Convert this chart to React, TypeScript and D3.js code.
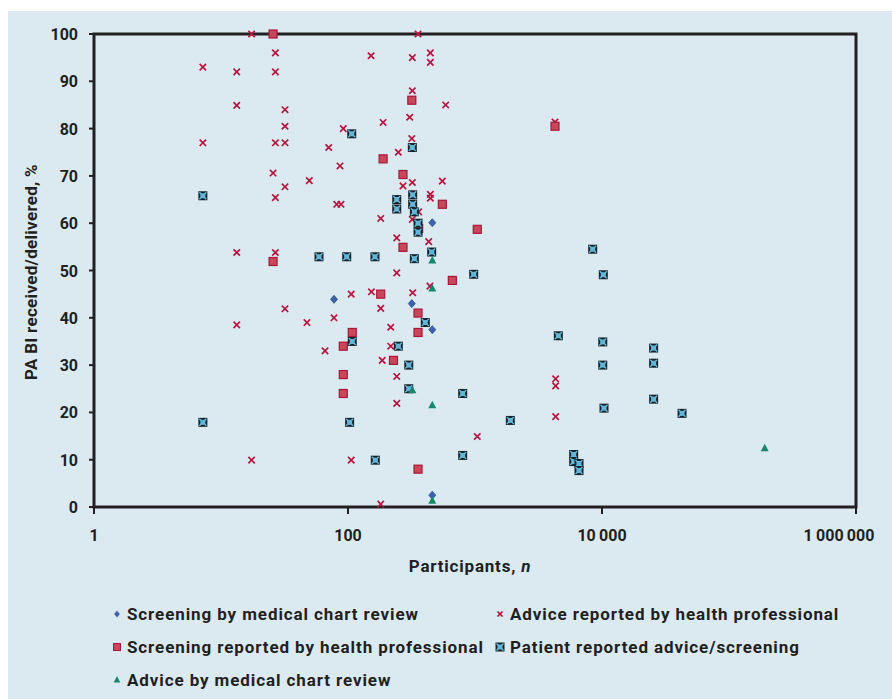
import React from "react";
import * as d3 from "d3";

// Screening by medical chart review (diamond)
const screenChartN = [77.6, 318, 461, 461, 461];
const screenChartPct = [43.9, 43.0, 60.1, 37.5, 2.5];

// Advice reported by health professional (cross)
const adviceHpN = [17.4, 356, 26.8, 152, 321, 445, 445, 7.2, 13.3, 26.8, 321, 588, 13.3, 31.9, 306, 189, 4266, 31.9, 91.8, 318, 7.2, 26.8, 31.9, 70.5, 249, 86.5, 25.7, 49.6, 271, 321, 553, 31.9, 26.8, 445, 445, 360, 81.5, 88.1, 181, 321, 242, 432, 13.3, 26.8, 242, 442, 106, 153, 323, 31.9, 181, 77.6, 47.5, 13.3, 217, 217, 65.9, 186, 242, 4315, 4315, 4315, 242, 1042, 17.4, 106, 181];
const adviceHpPct = [100, 100, 96.0, 95.4, 95.0, 96.0, 94.0, 93.0, 92.0, 92.0, 88.0, 85.0, 84.9, 84.0, 82.4, 81.3, 81.4, 80.5, 80.0, 77.9, 77.0, 77.0, 77.0, 76.0, 75.0, 72.1, 70.6, 69.0, 67.9, 68.6, 68.9, 67.7, 65.4, 66.1, 65.3, 62.4, 64.0, 64.0, 61.0, 60.8, 56.9, 56.1, 53.8, 53.8, 49.5, 46.7, 45.0, 45.5, 45.3, 41.9, 42.0, 40.0, 39.0, 38.5, 38.0, 34.0, 33.0, 31.0, 27.6, 27.1, 25.6, 19.1, 21.9, 14.9, 9.9, 9.9, 0.6];

// Screening reported by health professional (square)
const screenHpN = [25.7, 25.7, 189, 271, 318, 553, 360, 271, 1042, 663, 181, 356, 108, 356, 91.8, 228, 91.8, 91.8, 356, 4266];
const screenHpPct = [100, 51.9, 73.6, 70.3, 86.0, 64.0, 58.9, 54.9, 58.7, 47.9, 45.0, 41.0, 36.9, 36.9, 34.0, 31.0, 28.0, 24.0, 8.0, 80.5];

// Patient reported advice/screening
const patientN = [7.2, 7.2, 107, 321, 242, 323, 323, 242, 333, 356, 356, 456, 333, 59.1, 97.7, 163, 977, 406, 108, 249, 301, 301, 800, 103, 164, 800, 8450, 10240, 4530, 10140, 25500, 10140, 25500, 25500, 10370, 42700, 1897, 5985, 5985, 6590, 6590];
const patientPct = [65.8, 17.9, 78.9, 76.0, 65.0, 66.0, 64.0, 63.0, 62.4, 60.0, 58.1, 53.9, 52.5, 52.9, 52.9, 52.9, 49.2, 39.0, 35.0, 34.0, 30.0, 25.0, 24.0, 17.9, 9.9, 10.9, 54.5, 49.1, 36.2, 34.9, 33.6, 30.0, 30.4, 22.8, 20.9, 19.8, 18.3, 11.1, 9.6, 9.2, 7.7];

// Advice by medical chart review (triangle)
const adviceChartN = [461, 461, 321, 461, 461, 191000];
const adviceChartPct = [52.1, 46.2, 24.7, 21.5, 1.3, 12.4];

const xTicks = [1, 100, 10000, 1000000];
const xTickLabels = ["1", "100", "10\u2009000", "1\u2009000\u2009000"];
const yTicks = [0, 10, 20, 30, 40, 50, 60, 70, 80, 90, 100];

const FONT = "'Roboto', 'Liberation Sans', sans-serif";
const CROSS = "#b8163e";
const SQ_FILL = "#c8485a";
const SQ_STROKE = "#a9173a";
const DIAMOND = "#3b64ad";
const TRI = "#16876b";
const PAT_DARK = "#17232a";
const PAT_LIGHT = "#63b6d8";
const AXIS = "#231f20";

const zip = (a: number[], b: number[]) => a.map((v, i) => [v, b[i]] as [number, number]);

function Cross({ x, y, s = 3.2 }: { x: number; y: number; s?: number }) {
  return (
    <g stroke={CROSS} strokeWidth={1.7}>
      <line x1={x - s} y1={y - s} x2={x + s} y2={y + s} />
      <line x1={x - s} y1={y + s} x2={x + s} y2={y - s} />
    </g>
  );
}
function Square({ x, y }: { x: number; y: number }) {
  return <rect x={x - 4} y={y - 4} width={8} height={8} fill={SQ_FILL} stroke={SQ_STROKE} strokeWidth={1.2} />;
}
function Diamond({ x, y }: { x: number; y: number }) {
  return <path d={`M${x},${y - 4}L${x + 3.5},${y}L${x},${y + 4}L${x - 3.5},${y}Z`} fill={DIAMOND} stroke="#2b4f8f" strokeWidth={0.8} />;
}
function Tri({ x, y }: { x: number; y: number }) {
  return <path d={`M${x},${y - 4.5}L${x + 4},${y + 3}L${x - 4},${y + 3}Z`} fill={TRI} />;
}
function Patient({ x, y }: { x: number; y: number }) {
  return (
    <g>
      <rect x={x - 4.5} y={y - 4.5} width={9} height={9} fill={PAT_DARK} />
      <rect x={x - 2.5} y={y - 2.5} width={5} height={5} fill={PAT_LIGHT} />
      <g stroke={PAT_LIGHT} strokeWidth={1.4}>
        <line x1={x - 3.5} y1={y - 3.5} x2={x + 3.5} y2={y + 3.5} />
        <line x1={x - 3.5} y1={y + 3.5} x2={x + 3.5} y2={y - 3.5} />
      </g>
    </g>
  );
}

export default function App() {
  const W = 892, H = 699;
  const x = d3.scaleLog().domain([1, 1000000]).range([94, 856]);
  const y = d3.scaleLinear().domain([0, 100]).range([507, 34]);

  const legendRows = [
    { lx: 117, ly: 614, text: "Screening by medical chart review", m: "diamond" },
    { lx: 500, ly: 614, text: "Advice reported by health professional", m: "cross" },
    { lx: 117, ly: 647, text: "Screening reported by health professional", m: "square" },
    { lx: 500, ly: 647, text: "Patient reported advice/screening", m: "patient" },
    { lx: 117, ly: 680, text: "Advice by medical chart review", m: "tri" },
  ];

  const legendMarker = (m: string, cx: number, cy: number) => {
    if (m === "diamond") return <path d={`M${cx},${cy - 3.5}L${cx + 2.8},${cy}L${cx},${cy + 3.5}L${cx - 2.8},${cy}Z`} fill={DIAMOND} />;
    if (m === "cross") return <Cross x={cx} y={cy} s={2.5} />;
    if (m === "square") return <rect x={cx - 3.5} y={cy - 3.5} width={7} height={7} fill={SQ_FILL} stroke={SQ_STROKE} />;
    if (m === "patient") return <Patient x={cx} y={cy} />;
    return <path d={`M${cx},${cy - 4}L${cx + 3.3},${cy + 2.5}L${cx - 3.3},${cy + 2.5}Z`} fill={TRI} />;
  };

  return (
    <svg width={W} height={H} style={{ position: "fixed", left: 0, top: 0 }} fontFamily={FONT}>
      <rect x={0} y={0} width={W} height={H} fill="#ffffff" />
      <rect x={8} y={11} width={W - 8} height={H - 11} fill="#dbeaf1" />

      {/* y ticks */}
      {yTicks.map((t) => (
        <g key={"y" + t}>
          <line x1={89} x2={94} y1={y(t)} y2={y(t)} stroke={AXIS} strokeWidth={2} />
          <text x={78} y={y(t) + 6} textAnchor="end" fontSize={16} fontWeight="bold" fill="#231f20">{t}</text>
        </g>
      ))}
      {/* x ticks */}
      {xTicks.map((t, i) => (
        <g key={"x" + t}>
          <line x1={x(t)} x2={x(t)} y1={507} y2={514} stroke={AXIS} strokeWidth={2} />
          <text x={i === 3 ? 839 : x(t)} y={541} textAnchor="middle" fontSize={16} fontWeight="bold" fill="#231f20">{xTickLabels[i]}</text>
        </g>
      ))}

      {/* frame */}
      <rect x={94} y={34} width={856 - 94} height={507 - 34} fill="none" stroke={AXIS} strokeWidth={3} />

      {/* data */}
      {zip(adviceHpN, adviceHpPct).map(([n, v], i) => <Cross key={"c" + i} x={x(n)} y={y(v)} />)}
      {zip(screenHpN, screenHpPct).map(([n, v], i) => <Square key={"s" + i} x={x(n)} y={y(v)} />)}
      {zip(patientN, patientPct).map(([n, v], i) => <Patient key={"p" + i} x={x(n)} y={y(v)} />)}
      {zip(screenChartN, screenChartPct).map(([n, v], i) => <Diamond key={"d" + i} x={x(n)} y={y(v)} />)}
      {zip(adviceChartN, adviceChartPct).map(([n, v], i) => <Tri key={"t" + i} x={x(n)} y={y(v)} />)}

      {/* axis titles */}
      <text x={470} y={572} textAnchor="middle" fontSize={17} fontWeight="bold" fill="#231f20" letterSpacing={0.8}>
        Participants, <tspan fontStyle="italic">n</tspan>
      </text>
      <text transform="translate(37,272) rotate(-90)" textAnchor="middle" fontSize={17} fontWeight="bold" fill="#231f20" letterSpacing={0.3}>
        PA BI received/delivered, %
      </text>

      {/* legend */}
      {legendRows.map((r, i) => (
        <g key={"l" + i}>
          {legendMarker(r.m, r.lx, r.ly)}
          <text x={r.lx + 10} y={r.ly + 6} fontSize={17} fontWeight="bold" fill="#231f20" letterSpacing={0.9}>{r.text}</text>
        </g>
      ))}
    </svg>
  );
}
